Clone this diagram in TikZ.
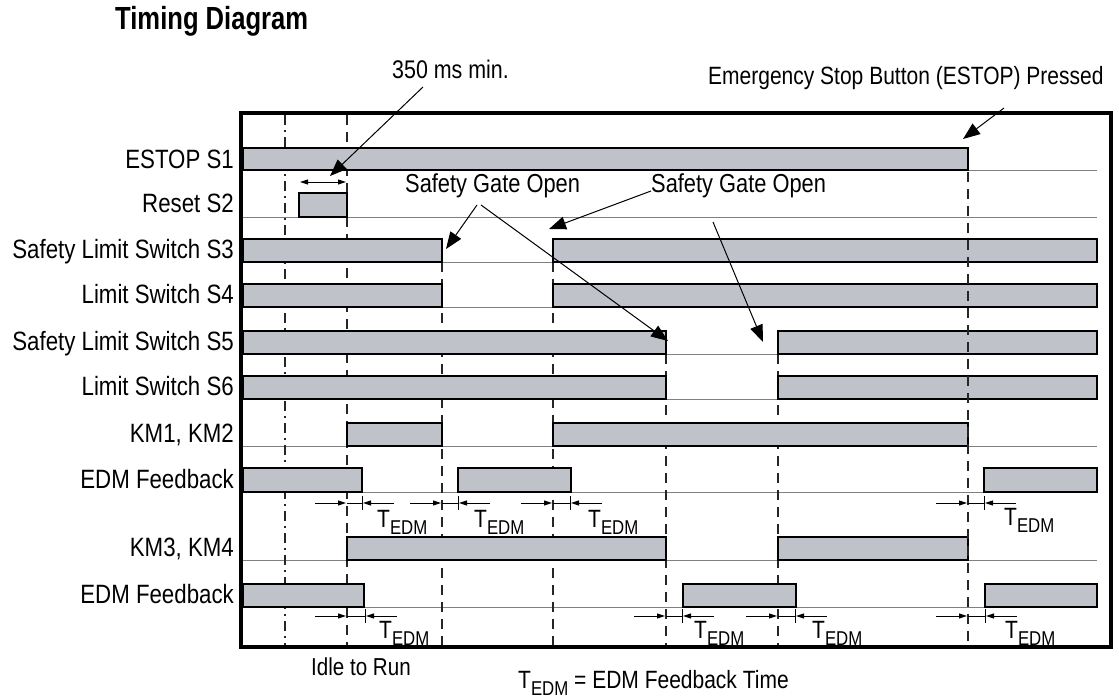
\documentclass[tikz,border=0pt]{standalone}
\usepackage{fontspec}
\setmainfont[FakeStretch=0.84]{Liberation Sans}
\newfontfamily\titlefont[FakeStretch=0.8]{Liberation Sans}
\usetikzlibrary{arrows.meta}
\definecolor{barfill}{HTML}{BFC3C9}
\definecolor{lowline}{HTML}{808080}
\newcommand{\Tedm}{T\raisebox{-7pt}{\fontsize{20}{20}\selectfont EDM}}
\begin{document}
\begin{tikzpicture}[x=1pt,y=-1pt,
  sig/.style={draw=black, line width=2.4pt, fill=barfill, line join=miter},
  low/.style={draw=lowline, line width=0.9pt},
  tline/.style={draw=black!85, line width=1.4pt, dash pattern=on 10pt off 7pt},
  tlinedot/.style={draw=black!85, line width=1.4pt, dash pattern=on 10pt off 5pt on 2pt off 5pt},
  lbl/.style={anchor=base east, inner sep=0pt, font=\fontsize{26.5}{30}\selectfont},
  txt/.style={anchor=base west, inner sep=0pt, font=\fontsize{26}{30}\selectfont},
  tedm/.style={anchor=base west, inner sep=0pt, font=\fontsize{25}{29}\selectfont},
  pointer/.style={draw=black, line width=1pt, -{Triangle[length=17pt,width=13pt]}},
  meas/.style={draw=black, line width=1pt, -{Triangle[length=8pt,width=5pt]}},
  tickline/.style={draw=black, line width=1pt},
]
\useasboundingbox (0,0) rectangle (1119,698);

% title and top texts
\node[anchor=base west, inner sep=0pt, font=\titlefont\fontsize{32}{36}\bfseries\selectfont] (title) at (115,30) {Timing Diagram};
\node[txt, font=\fontsize{25.5}{30}\selectfont] (t350) at (392,79) {350 ms min.};
\node[txt, font=\fontsize{25}{30}\selectfont] (testop) at (708,85) {Emergency Stop Button (ESTOP) Pressed};
\node[txt] (sgo1) at (405,193) {Safety Gate Open};
\node[txt] (sgo2) at (651,193) {Safety Gate Open};

% row labels
\node[lbl] (l1) at (234,168) {ESTOP S1};
\node[lbl] (l2) at (234,212) {Reset S2};
\node[lbl] (l3) at (234,258) {Safety Limit Switch S3};
\node[lbl] (l4) at (234,303) {Limit Switch S4};
\node[lbl] (l5) at (234,350) {Safety Limit Switch S5};
\node[lbl] (l6) at (234,395) {Limit Switch S6};
\node[lbl] (l7) at (234,442) {KM1, KM2};
\node[lbl] (l8) at (234,488) {EDM Feedback};
\node[lbl] (l9) at (234,556) {KM3, KM4};
\node[lbl] (l10) at (234,603) {EDM Feedback};

% low lines
\foreach \y in {170,217,262,307,354,399,446,492,560,607}
  \draw[low] (243,\y) -- (1097,\y);

% time lines (under bars)
\draw[tlinedot] (285,115) -- (285,645);
\draw[tline] (347,115) -- (347,645);
\draw[tline] (442,262) -- (442,645);
\draw[tline] (553,262) -- (553,645);
\draw[tline] (666,354) -- (666,645);
\draw[tline] (778,354) -- (778,645);

% signal bars
\draw[sig] (243,148) rectangle (968,170);
\draw[sig] (299,193) rectangle (347,217);
\draw[sig] (243,239) rectangle (442,262);
\draw[sig] (553,239) rectangle (1097,262);
\draw[sig] (243,284) rectangle (442,307);
\draw[sig] (553,284) rectangle (1097,307);
\draw[sig] (243,331) rectangle (666,354);
\draw[sig] (778,331) rectangle (1097,354);
\draw[sig] (243,376) rectangle (666,399);
\draw[sig] (778,376) rectangle (1097,399);
\draw[sig] (347,423) rectangle (442,446);
\draw[sig] (553,423) rectangle (968,446);
\draw[sig] (243,468) rectangle (362,492);
\draw[sig] (458,468) rectangle (571,492);
\draw[sig] (984,468) rectangle (1097,492);
\draw[sig] (347,537) rectangle (666,560);
\draw[sig] (778,537) rectangle (968,560);
\draw[sig] (243,584) rectangle (364,607);
\draw[sig] (683,584) rectangle (796,607);
\draw[sig] (985,584) rectangle (1097,607);

% ESTOP time line over bars
\draw[tline] (968,172) -- (968,645);

% 350 ms double arrow
\draw[draw=black, line width=1pt, {Triangle[length=8pt,width=5pt]}-{Triangle[length=8pt,width=5pt]}] (300,182) -- (346,182);

% T_EDM measurements
\foreach \xa/\xb/\yy/\tx/\ty in {347/362/503/377/527, 442/458/503/474/527, 553/570/503/588/527, 968/984/503/1004/525,
                                  347/365/616/379/638, 666/682/616/694/638, 778/795/616/812/638, 968/985/616/1005/638} {
  \draw[meas] (\xa-32,\yy) -- (\xa-1,\yy);
  \draw[tickline] (\xa,\yy) -- (\xb,\yy);
  \draw[tickline] (\xb,\yy-7) -- (\xb,\yy+7);
  \draw[meas] (\xb+32,\yy) -- (\xb+1,\yy);
  \node[tedm] (te-\xa-\yy) at (\tx,\ty) {\Tedm};
}

% pointer arrows
\coordinate (a350s) at (423,87);   \coordinate (a350e) at (330,176);
\coordinate (aess) at (1004,108);  \coordinate (aese) at (963,139);
\coordinate (g1s) at (477,205);    \coordinate (g1e) at (446,249);
\coordinate (g1bs) at (481,205);   \coordinate (g1be) at (668,341);
\coordinate (g2s) at (651,191);    \coordinate (g2e) at (549,229);
\coordinate (g2bs) at (713,222);   \coordinate (g2be) at (763,342);
\draw[pointer] (a350s) -- (a350e);
\draw[pointer] (aess) -- (aese);
\draw[pointer] (g1s) -- (g1e);
\draw[pointer] (g1bs) -- (g1be);
\draw[pointer] (g2s) -- (g2e);
\draw[pointer] (g2bs) -- (g2be);

% frame
\draw[line width=4pt] (241,113) rectangle (1111,647);

% bottom texts
\node[txt, font=\fontsize{24.5}{29}\selectfont] (idle) at (311,675) {Idle to Run};
\node[txt, font=\fontsize{25}{29}\selectfont] (legend) at (518,688) {\Tedm{} = EDM Feedback Time};
\end{tikzpicture}
\end{document}
